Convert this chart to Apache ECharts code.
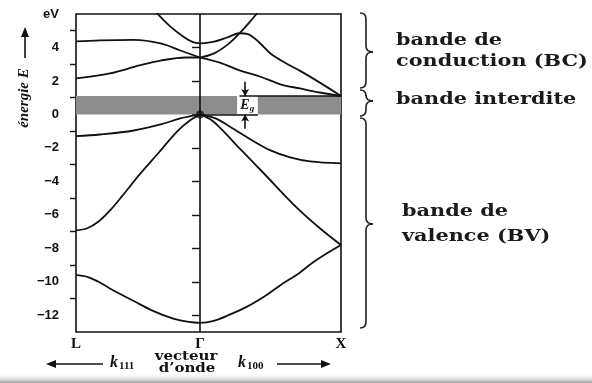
<!DOCTYPE html>
<html>
<head>
<meta charset="utf-8">
<script src="https://cdn.jsdelivr.net/npm/echarts@6/dist/echarts.min.js"></script>
<style>
  html, body { margin: 0; padding: 0; background: #fff; }
  #chart { width: 592px; height: 383px; }
</style>
</head>
<body>
<div id="chart"></div>
<script>
// Silicon band structure E(k) along L – Γ – X (energies in eV)
// k is measured from Γ; X sits at 1, L at -0.88
const kPoints = [-0.88, 0, 1];
const kNames = ['L', 'Γ', 'X'];
const energyTicks = [-12, -10, -8, -6, -4, -2, 0, 2, 4, 6];
const energyMinorTicks = [-11, -9, -7, -5, -3, -1, 1, 3, 5];
const gapEnergy = 1.1;

// valence bands
const vbLowest = [[-0.88,-9.6],[-0.8,-9.7],[-0.72,-10.0],[-0.64,-10.4],[-0.47,-11.15],[-0.33,-11.75],[-0.19,-12.2],[-0.08,-12.4],[0,-12.45],
                  [0.09,-12.35],[0.2,-12.0],[0.33,-11.5],[0.47,-10.8],[0.57,-10.2],[0.7,-9.5],[0.8,-8.85],[0.9,-8.3],[1,-7.8]];
const vbLambda1 = [[-0.88,-6.93],[-0.8,-6.8],[-0.72,-6.4],[-0.64,-5.75],[-0.55,-4.85],[-0.43,-3.6],[-0.3,-2.35],[-0.16,-1.0],[-0.07,-0.35],[0,0]];
const vbTopL = [[-0.88,-1.3],[-0.71,-1.2],[-0.47,-0.96],[-0.28,-0.6],[-0.14,-0.24],[0,0]];
const vbHeavyX = [[0,0],[0.11,-0.24],[0.21,-0.72],[0.36,-1.5],[0.5,-2.15],[0.64,-2.57],[0.78,-2.81],[1,-2.93]];
const vbLightX = [[0,0],[0.085,-0.36],[0.16,-0.96],[0.3,-2.2],[0.45,-3.5],[0.69,-5.6],[0.85,-6.8],[1,-7.8]];

// conduction bands
const cbL3 = [[-0.88,4.36],[-0.71,4.42],[-0.47,4.45],[-0.28,4.24],[-0.14,3.82],[0,3.4]];
const cbL1 = [[-0.88,2.15],[-0.64,2.45],[-0.43,2.93],[-0.28,3.22],[-0.1,3.4],[0,3.4]];
const cbGamma2Left = [[-0.33,6.3],[-0.3,6.0],[-0.21,5.25],[-0.11,4.6],[-0.05,4.32],[0,4.24]];
const cbDelta2 = [[0,4.24],[0.1,4.35],[0.2,4.62],[0.28,4.85],[0.34,4.8],[0.42,4.3],[0.5,3.64],[0.6,3.1],[0.71,2.6],[0.85,1.9],[1,1.1]];
const cbDelta5 = [[0,3.4],[0.1,3.65],[0.2,4.2],[0.28,4.85],[0.35,5.5],[0.41,6.1],[0.43,6.3]];
const cbDelta1 = [[0,3.4],[0.14,3.1],[0.28,2.63],[0.43,2.25],[0.57,1.8],[0.71,1.55],[0.85,1.31],[1,1.1]];

const bands = [vbLowest, vbLambda1, vbTopL, vbHeavyX, vbLightX, cbL3, cbL1, cbGamma2Left, cbDelta2, cbDelta5, cbDelta1];

const ink = '#111';
const serifBold = 'bold 16px "DejaVu Serif"';

const chart = echarts.init(document.getElementById('chart'), null, { renderer: 'canvas' });

function fmtEnergy(v) {
  if (v === 6) return 'eV';
  return v < 0 ? '\u2212' + Math.abs(v) : String(v);
}

const bandSeries = bands.map(b => ({
  type: 'line',
  data: b,
  smooth: 0.35,
  symbol: 'none',
  silent: true,
  z: 3,
  lineStyle: { color: ink, width: 1.8 }
}));

// right-hand curly brace "}" made of quadratic curves and straight runs
function brace(y0, yTip, y1) {
  const st = { stroke: '#222', lineWidth: 1.6, fill: null };
  const q = (x1, y1_, cx, cy, x2, y2) => ({ type: 'bezierCurve', silent: true,
    shape: { x1: x1, y1: y1_, cpx1: cx, cpy1: cy, x2: x2, y2: y2 }, style: st });
  const l = (x1, y1_, x2, y2) => ({ type: 'line', silent: true, shape: { x1: x1, y1: y1_, x2: x2, y2: y2 }, style: st });
  return [
    q(360, y0, 366, y0, 366, y0 + 6),
    l(366, y0 + 6, 366, yTip - 6),
    q(366, yTip - 6, 366, yTip, 373, yTip),
    q(373, yTip, 366, yTip, 366, yTip + 6),
    l(366, yTip + 6, 366, y1 - 6),
    q(366, y1 - 6, 366, y1, 360, y1)
  ];
}

function sideText(x, y, text) {
  return { type: 'text', x: x, y: y, scaleX: 1.3, silent: true,
    style: { text: text, font: serifBold, fill: '#1a1a1a', textVerticalAlign: 'middle' } };
}

chart.setOption({
  animation: false,
  backgroundColor: '#fff',
  grid: { left: 76, right: 251, top: 14, bottom: 51, show: true, borderColor: ink, borderWidth: 1.6, backgroundColor: 'transparent' },
  xAxis: {
    type: 'value', min: kPoints[0], max: kPoints[2],
    axisLine: { show: false }, splitLine: { show: false }, axisTick: { show: false },
    axisLabel: {
      customValues: kPoints, margin: 5,
      formatter: v => kNames[kPoints.indexOf(v)],
      color: ink, fontFamily: 'Liberation Serif', fontWeight: 'bold', fontSize: 15
    }
  },
  yAxis: [{
    type: 'value', min: -13, max: 6, position: 'left',
    axisLine: { show: false }, splitLine: { show: false },
    axisTick: { show: true, customValues: energyTicks.filter(v => v !== 6), length: 8, lineStyle: { color: ink, width: 1.4 } },
    axisLabel: { customValues: energyTicks, formatter: fmtEnergy, margin: 17, color: ink,
      fontFamily: 'Liberation Sans', fontWeight: 'bold', fontSize: 13 }
  }, {
    type: 'value', min: -13, max: 6, position: 'left', offset: 0,
    axisLine: { show: false }, splitLine: { show: false }, axisLabel: { show: false },
    axisTick: { show: true, customValues: energyMinorTicks, length: 6, lineStyle: { color: ink, width: 1.4 } }
  }],
  series: [
    {
      // forbidden band shading and the Eg box
      type: 'line', data: [], silent: true, z: 1,
      markArea: {
        silent: true,
        data: [
          [{ coord: [kPoints[0], 0], itemStyle: { color: '#8d8d8d' } }, { coord: [kPoints[2], gapEnergy] }],
          [{ coord: [0.263, 0], itemStyle: { color: '#ffffff' } }, { coord: [0.41, gapEnergy] }]
        ]
      }
    },
    ...bandSeries,
    {
      // Γ line, gap edges and Eg arrows
      type: 'line', data: [], silent: true, z: 4,
      markLine: {
        silent: true, symbol: 'none', label: { show: false },
        lineStyle: { color: ink, width: 1.6, type: 'solid' },
        data: [
          [{ coord: [0, -13] }, { coord: [0, 6] }],
          [{ coord: [0, 0] }, { coord: [0.41, 0] }],
          [{ coord: [0.28, gapEnergy] }, { coord: [1, gapEnergy] }],
          [{ coord: [0.32, 1.95], symbol: 'none' }, { coord: [0.32, gapEnergy], symbol: 'arrow', symbolSize: [6, 7] }],
          [{ coord: [0.32, -0.85], symbol: 'none' }, { coord: [0.32, 0], symbol: 'arrow', symbolSize: [6, 7] }]
        ]
      },
      markPoint: {
        silent: true, symbol: 'rect', symbolSize: 1, itemStyle: { color: 'transparent' },
        data: [{ coord: [0.335, 0.55] }],
        label: {
          show: true, position: 'inside',
          formatter: '{e|E}{g|g}',
          rich: {
            e: { fontFamily: 'Liberation Serif', fontStyle: 'italic', fontWeight: 'bold', fontSize: 14, color: ink },
            g: { fontFamily: 'Liberation Serif', fontStyle: 'italic', fontWeight: 'bold', fontSize: 9, color: ink, padding: [6, 0, 0, 0] }
          }
        }
      }
    },
    {
      type: 'scatter', data: [[0, 0]], symbolSize: 8, silent: true, z: 5,
      itemStyle: { color: ink }
    }
  ],
  graphic: [
    // energy axis title with arrow
    { type: 'text', x: 24, y: 98, rotation: Math.PI / 2, silent: true,
      style: { text: 'énergie E', font: 'italic bold 15px "Liberation Serif"', fill: ink, textAlign: 'center', textVerticalAlign: 'middle' } },
    { type: 'line', silent: true, shape: { x1: 25, y1: 58, x2: 25, y2: 33 }, style: { stroke: ink, lineWidth: 1.6 } },
    { type: 'polygon', silent: true, shape: { points: [[21, 37], [29, 37], [25, 27]] }, style: { fill: ink } },

    // wave-vector annotations under the axis
    { type: 'line', silent: true, shape: { x1: 54, y1: 364, x2: 103, y2: 364 }, style: { stroke: ink, lineWidth: 1.6 } },
    { type: 'polygon', silent: true, shape: { points: [[46, 364], [56, 360], [56, 368]] }, style: { fill: ink } },
    { type: 'text', x: 110, y: 363, silent: true,
      style: { text: '{k|k}{s|111}', textVerticalAlign: 'middle',
        rich: { k: { font: 'italic bold 16px "Liberation Serif"', fill: ink },
                s: { font: 'bold 11px "Liberation Serif"', fill: ink, padding: [7, 0, 0, 1] } } } },
    { type: 'text', x: 186, y: 357, scaleX: 1.25, silent: true,
      style: { text: 'vecteur', font: 'bold 12px "DejaVu Serif"', fill: ink, textAlign: 'center', textVerticalAlign: 'middle' } },
    { type: 'text', x: 187, y: 369, scaleX: 1.25, silent: true,
      style: { text: 'd\u2019onde', font: 'bold 12px "DejaVu Serif"', fill: ink, textAlign: 'center', textVerticalAlign: 'middle' } },
    { type: 'text', x: 238, y: 363, silent: true,
      style: { text: '{k|k}{s|100}', textVerticalAlign: 'middle',
        rich: { k: { font: 'italic bold 16px "Liberation Serif"', fill: ink },
                s: { font: 'bold 11px "Liberation Serif"', fill: ink, padding: [7, 0, 0, 1] } } } },
    { type: 'line', silent: true, shape: { x1: 277, y1: 364, x2: 322, y2: 364 }, style: { stroke: ink, lineWidth: 1.6 } },
    { type: 'polygon', silent: true, shape: { points: [[331, 364], [321, 360], [321, 368]] }, style: { fill: ink } },

    // braces and band names
    ...brace(13, 52, 88),
    ...brace(90, 101, 116),
    ...brace(118, 224, 328),
    sideText(396, 41, 'bande de'),
    sideText(396, 62, 'conduction (BC)'),
    sideText(396, 100, 'bande interdite'),
    sideText(402, 212, 'bande de'),
    sideText(402, 237, 'valence (BV)'),

    // soft shadow along the lower edge
    { type: 'rect', silent: true, z: -1, shape: { x: 0, y: 373, width: 592, height: 10 },
      style: { fill: new echarts.graphic.LinearGradient(0, 0, 0, 1, [
        { offset: 0, color: 'rgba(255,255,255,0)' }, { offset: 1, color: 'rgba(140,140,140,0.85)' }]) } }
  ]
});
</script>
</body>
</html>
